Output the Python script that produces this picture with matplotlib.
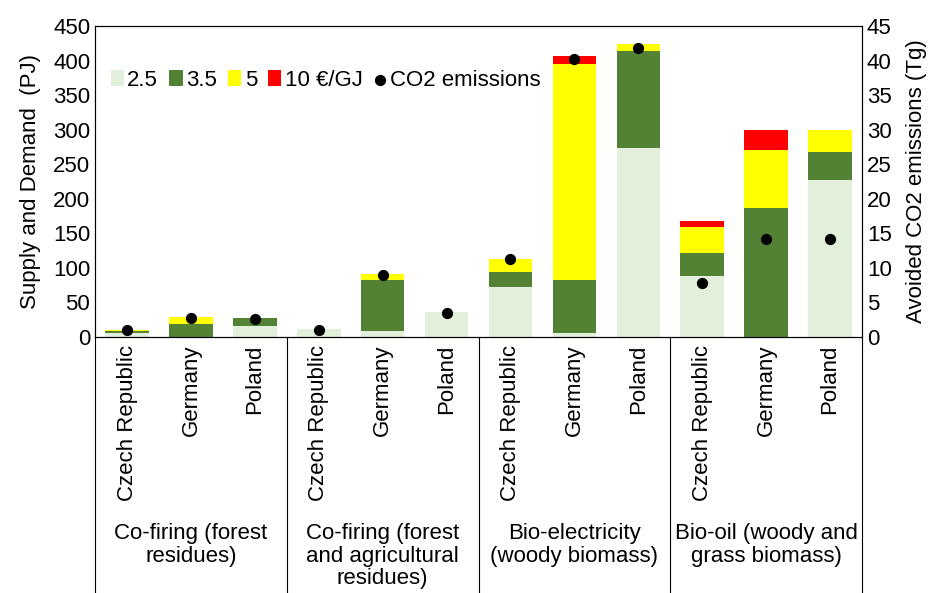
import matplotlib
matplotlib.use("Agg")
import matplotlib.pyplot as plt
import numpy as np

plt.rcParams['font.family'] = ['Liberation Sans', 'DejaVu Sans']

countries = ["Czech Republic", "Germany", "Poland"] * 4
groups = ["Co-firing (forest\nresidues)", "Co-firing (forest\nand agricultural\nresidues)",
          "Bio-electricity\n(woody biomass)", "Bio-oil (woody and\ngrass biomass)"]

# stacked layer values (PJ)
p25 = [6, 0, 15.5, 11, 8, 36, 72, 5, 274, 88, 0, 227]
p35 = [2, 18, 11.5, 0, 75, 0, 22, 78, 140, 34, 186, 41]
p5 = [2, 10, 0, 0, 8, 0, 19, 312, 10, 37, 84, 31]
p10 = [0, 0, 0, 0, 0, 0, 0, 12, 0, 9, 29, 0]
co2 = [1.0, 2.7, 2.6, 1.0, 8.9, 3.5, 11.3, 40.3, 41.8, 7.8, 14.1, 14.1]

fs = 16
fig = plt.figure(figsize=(9.42, 5.93), dpi=100)
ax = fig.add_axes([0.101, 0.432, 0.814, 0.524])
x = np.arange(len(countries))
w = 0.68
b = np.zeros(len(x))
cols = ["#e2efda", "#548235", "#ffff00", "#ff0000"]
labs = ["2.5", "3.5", "5", "10 €/GJ"]
for vals, c, l in zip([p25, p35, p5, p10], cols, labs):
    ax.bar(x, vals, w, bottom=b, color=c, label=l)
    b += np.array(vals)
ax.set_xlim(-0.5, len(x) - 0.5)
ax.set_ylim(0, 450)
ax.set_yticks(range(0, 451, 50))
ax.set_xticks([])
ax.set_ylabel("Supply and Demand  (PJ)", fontsize=fs, labelpad=9)
ax.tick_params(labelsize=fs, length=0)

ax2 = ax.twinx()
ax2.scatter(x, co2, color="black", s=50, zorder=5, label="CO2 emissions")
ax2.set_ylim(0, 45)
ax2.set_yticks(range(0, 46, 5))
ax2.tick_params(labelsize=fs, length=0)
ax2.set_ylabel("Avoided CO2 emissions (Tg)", fontsize=fs, labelpad=10)

h1, l1 = ax.get_legend_handles_labels()
h2, l2 = ax2.get_legend_handles_labels()
ax.legend(h1 + h2, l1 + l2, ncol=5, frameon=False, fontsize=fs, loc="upper left",
          bbox_to_anchor=(0.0, 0.91), handlelength=0.6, handletextpad=0.15,
          columnspacing=0.5, borderpad=0.2)

# category axis below
for xi, c in zip(x, countries):
    ax.text(xi, -0.025, c, transform=ax.get_xaxis_transform(), rotation=90,
            ha="center", va="top", fontsize=fs)
for i, g in enumerate(groups):
    ax.text(3 * i + 1, -0.6, g, transform=ax.get_xaxis_transform(),
            ha="center", va="top", fontsize=fs, linespacing=1.1)
for s in [-0.5, 2.5, 5.5, 8.5, 11.5]:
    ax.plot([s, s], [0, -0.85], transform=ax.get_xaxis_transform(),
            color="black", lw=0.8, clip_on=False)

fig.savefig("out.png", dpi=100)
